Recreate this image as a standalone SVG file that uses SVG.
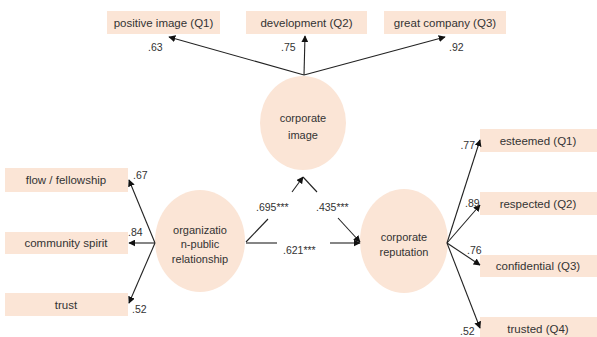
<svg xmlns="http://www.w3.org/2000/svg" width="597" height="337" viewBox="0 0 597 337">
<style>
.box{fill:#fbe5d6;}
.ell{fill:#fbe5d6;}
.bt{font-family:"Liberation Sans",Arial,sans-serif;font-size:11.5px;fill:#333;text-anchor:middle;}
.et{font-family:"Liberation Sans",Arial,sans-serif;font-size:11px;fill:#333;text-anchor:middle;}
.nt{font-family:"Liberation Sans",Arial,sans-serif;font-size:10.5px;fill:#333;}
.ln{stroke:#222;stroke-width:1.1;fill:none;}
.arr{stroke:#222;stroke-width:1.1;fill:none;marker-end:url(#ah);}
</style>
<defs>
<marker id="ah" viewBox="0 0 10 10" refX="9" refY="5" markerWidth="7" markerHeight="7" markerUnits="userSpaceOnUse" orient="auto">
<path d="M0,0 L10,5 L0,10 z" fill="#111"/>
</marker>
</defs>
<rect width="597" height="337" fill="#fff"/>

<g id="q_positive"><rect class="box" x="107" y="11" width="113" height="23"/><text class="bt" x="163.5" y="27">positive image (Q1)</text></g>
<g id="q_development"><rect class="box" x="246" y="11" width="121" height="23"/><text class="bt" x="306.5" y="27">development (Q2)</text></g>
<g id="q_great"><rect class="box" x="384" y="11" width="122" height="23"/><text class="bt" x="445" y="27">great company (Q3)</text></g>

<g id="corporate_image"><ellipse class="ell" cx="303" cy="123" rx="43" ry="47"/><text class="et" x="303" y="122">corporate</text><text class="et" x="303" y="139">image</text></g>

<g id="l_flow"><rect class="box" x="5" y="168" width="123" height="24"/><text class="bt" x="66" y="184">flow / fellowship</text></g>
<g id="l_community"><rect class="box" x="5" y="232" width="123" height="22"/><text class="bt" x="66" y="247">community  spirit</text></g>
<g id="l_trust"><rect class="box" x="5" y="293" width="123" height="23"/><text class="bt" x="66" y="309">trust</text></g>

<g id="opr"><ellipse class="ell" cx="200" cy="241" rx="45" ry="51"/><text class="et" x="200" y="234">organizatio</text><text class="et" x="200" y="248">n-public</text><text class="et" x="200" y="263">relationship</text></g>

<g id="corporate_reputation"><ellipse class="ell" cx="404" cy="241" rx="44" ry="52"/><text class="et" x="404" y="241">corporate</text><text class="et" x="404" y="256">reputation</text></g>

<g id="r_esteemed"><rect class="box" x="480" y="129" width="117" height="23"/><text class="bt" x="538" y="145">esteemed (Q1)</text></g>
<g id="r_respected"><rect class="box" x="480" y="192" width="117" height="23"/><text class="bt" x="538" y="208">respected (Q2)</text></g>
<g id="r_confidential"><rect class="box" x="480" y="255" width="117" height="22"/><text class="bt" x="538" y="270">confidential (Q3)</text></g>
<g id="r_trusted"><rect class="box" x="480" y="317" width="117" height="20"/><text class="bt" x="538" y="333">trusted (Q4)</text></g>

<g id="connectors">
<line class="arr" x1="304" y1="75" x2="169" y2="37"/>
<line class="arr" x1="304" y1="75" x2="305" y2="36"/>
<line class="arr" x1="304" y1="75" x2="445" y2="37"/>

<line class="arr" x1="155" y1="243" x2="129" y2="180"/>
<line class="arr" x1="155" y1="243" x2="129" y2="243"/>
<line class="arr" x1="155" y1="243" x2="129" y2="303"/>

<line class="ln" x1="246" y1="242" x2="268" y2="219"/>
<line class="arr" x1="292" y1="192" x2="303" y2="177"/>
<line class="ln" x1="303" y1="177" x2="317" y2="192"/>
<line class="arr" x1="338" y1="218" x2="360" y2="242"/>
<line class="ln" x1="246" y1="243" x2="277" y2="243"/>
<line class="arr" x1="330" y1="243" x2="360" y2="243"/>

<line class="arr" x1="447" y1="243" x2="480" y2="140"/>
<line class="arr" x1="447" y1="243" x2="480" y2="205"/>
<line class="arr" x1="447" y1="243" x2="480" y2="265"/>
<line class="arr" x1="447" y1="243" x2="480" y2="328"/>
</g>

<g id="labels">
<text class="nt" x="148" y="51">.63</text>
<text class="nt" x="281" y="51">.75</text>
<text class="nt" x="449" y="51">.92</text>
<text class="nt" x="133" y="179">.67</text>
<text class="nt" x="128" y="236">.84</text>
<text class="nt" x="132" y="313">.52</text>
<text class="nt" x="256" y="211">.695***</text>
<text class="nt" x="316" y="211">.435***</text>
<text class="nt" x="283" y="254">.621***</text>
<text class="nt" x="475" y="149" text-anchor="end">.77</text>
<text class="nt" x="465" y="207">.89</text>
<text class="nt" x="467" y="254">.76</text>
<text class="nt" x="460" y="335">.52</text>
</g>
</svg>
